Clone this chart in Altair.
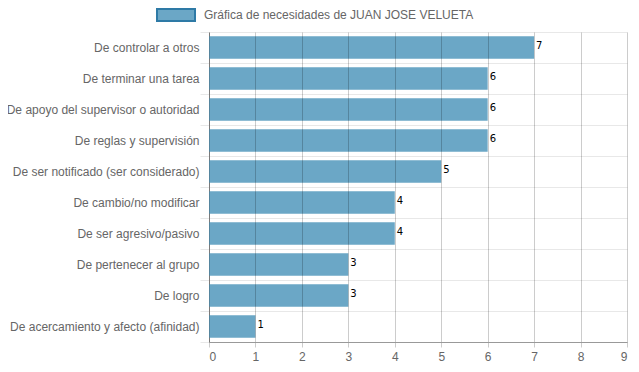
import altair as alt
import pandas as pd

categories = [
    "De controlar a otros",
    "De terminar una tarea",
    "De apoyo del supervisor o autoridad",
    "De reglas y supervisión",
    "De ser notificado (ser considerado)",
    "De cambio/no modificar",
    "De ser agresivo/pasivo",
    "De pertenecer al grupo",
    "De logro",
    "De acercamiento y afecto (afinidad)",
]
values = [7, 6, 6, 6, 5, 4, 4, 3, 3, 1]
series_name = "Gráfica de necesidades de JUAN JOSE VELUETA"
x_ticks = list(range(0, 10))

df = pd.DataFrame({"cat": categories, "val": values, "serie": [series_name] * len(values)})

FONT = "Liberation Sans"
BAR = "#6ba7c6"
BORDER = "#2e7aa6"

y_enc = alt.Y(
    "cat:N",
    sort=categories,
    title=None,
    scale=alt.Scale(paddingInner=0, paddingOuter=0),
    axis=alt.Axis(
        tickBand="extent",
        grid=True,
        gridColor="#e8e8e8",
        tickColor="#e8e8e8",
        tickSize=9,
        labelPadding=1,
        labelColor="#666666",
        labelFont=FONT,
        labelFontSize=12,
        labelLimit=300,
        domainColor="#999999",
    ),
)
x_enc = alt.X(
    "val:Q",
    title=None,
    scale=alt.Scale(domain=[0, 9], nice=False),
    axis=alt.Axis(
        values=x_ticks,
        grid=True,
        gridColor="#000000",
        gridOpacity=0.2,
        tickColor="#000000",
        tickOpacity=0.2,
        tickSize=5,
        labelPadding=4,
        labelColor="#666666",
        labelFont=FONT,
        labelFontSize=12,
        domainColor="#999999",
        zindex=1,
    ),
)

bars = alt.Chart(df).mark_bar(height={"band": 0.72}).encode(
    y=y_enc,
    x=x_enc,
    color=alt.Color(
        "serie:N",
        scale=alt.Scale(range=[BAR]),
        legend=alt.Legend(
            title=None,
            orient="none",
            legendX=-53,
            legendY=-37,
            symbolType="M-1,-0.31H1V0.31H-1Z",
            symbolSize=1444,
            symbolStrokeWidth=2,
            symbolStrokeColor=BORDER,
            symbolOpacity=1,
            labelFont=FONT,
            labelFontSize=12,
            labelColor="#666666",
            labelOffset=8,
            labelLimit=400,
            padding=0,
        ),
    ),
)

labels = alt.Chart(df).mark_text(
    align="left", baseline="middle", dx=2, dy=-2, font="DejaVu Sans", fontSize=10, color="#000000"
).encode(y=alt.Y("cat:N", sort=categories), x="val:Q", text="val:Q")

chart = (
    alt.layer(bars, labels)
    .properties(
        width=418,
        height=310,
        padding={"left": 201, "top": 24, "right": 4, "bottom": 20},
        autosize=alt.AutoSizeParams(type="none"),
    )
    .configure_view(stroke=None)
)

chart.save("out.html", embed_options={"renderer": "svg", "actions": False})
